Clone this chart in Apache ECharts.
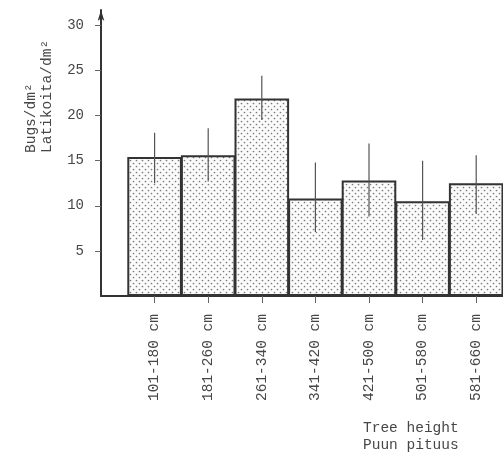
<!DOCTYPE html>
<html>
<head>
<meta charset="utf-8">
<script src="https://cdn.jsdelivr.net/npm/echarts@6/dist/echarts.min.js"></script>
<style>
  html, body { margin: 0; padding: 0; background: #fff; }
  #chart { width: 503px; height: 455px; }
</style>
</head>
<body>
<div id="chart"></div>
<script>
// tree height classes
const heightClasses = ['101-180 cm', '181-260 cm', '261-340 cm', '341-420 cm', '421-500 cm', '501-580 cm', '581-660 cm'];
// mean bugs per dm2
const bugMeans = [15.4, 15.6, 21.9, 10.8, 12.8, 10.5, 12.5];
// error bar ends
const errLow = [12.5, 12.7, 19.5, 7.1, 8.8, 6.2, 9.1];
const errHigh = [18.1, 18.6, 24.4, 14.8, 16.9, 15.0, 15.6];
const yTicks = [5, 10, 15, 20, 25, 30];

const textColor = '#474747';
const lineColor = '#333';
const monoFont = '"Liberation Mono", "DejaVu Sans Mono", monospace';

// dotted fill, like the printed screen tone
function dotPattern() {
  const c = document.createElement('canvas');
  c.width = 6;
  c.height = 6;
  const ctx = c.getContext('2d');
  ctx.fillStyle = '#fbfbfb';
  ctx.fillRect(0, 0, 6, 6);
  ctx.fillStyle = '#7a7a7a';
  [[1.5, 1.5], [4.5, 4.5]].forEach(([x, y]) => {
    ctx.beginPath();
    ctx.arc(x, y, 0.85, 0, Math.PI * 2);
    ctx.fill();
  });
  return c;
}

// blank categories at both ends so the bars sit off the y axis
const xCats = [''].concat(heightClasses, [' ']);

const myChart = echarts.init(document.getElementById('chart'));
const option = {
  backgroundColor: '#fff',
  animation: false,
  title: {
    text: 'Tree height\nPuun pituus',
    left: 358,
    top: 415,
    textStyle: {
      fontFamily: monoFont,
      fontSize: 14.5,
      fontWeight: 'normal',
      color: textColor,
      lineHeight: 17
    }
  },
  grid: {
    left: 101,
    top: 10,
    bottom: 159,
    width: 428.8,
    outerBoundsMode: 'none',
    containLabel: false
  },
  xAxis: {
    type: 'category',
    data: xCats,
    boundaryGap: false,
    axisLine: {
      onZero: false,
      lineStyle: { color: lineColor, width: 2 }
    },
    axisTick: {
      length: 7,
      interval: (i, v) => v.trim() !== '',
      lineStyle: { color: '#666', width: 1 }
    },
    axisLabel: {
      rotate: 90,
      margin: 18,
      interval: 0,
      fontFamily: monoFont,
      fontSize: 14.5,
      color: textColor
    },
    splitLine: { show: false }
  },
  yAxis: {
    type: 'value',
    min: 0,
    max: 31.7,
    name: 'Bugs/dm²\nLatikoita/dm²',
    nameLocation: 'middle',
    nameRotate: 90,
    nameGap: 62,
    nameTextStyle: {
      fontFamily: monoFont,
      fontSize: 14.5,
      color: textColor,
      align: 'left',
      verticalAlign: 'middle',
      lineHeight: 16
    },
    axisLine: {
      show: true,
      symbol: ['none', 'arrow'],
      symbolSize: [5, 11],
      lineStyle: { color: lineColor, width: 2 }
    },
    axisTick: {
      show: true,
      length: 6,
      customValues: yTicks,
      lineStyle: { color: '#666', width: 1 }
    },
    axisLabel: {
      margin: 17,
      customValues: yTicks,
      fontFamily: monoFont,
      fontSize: 14,
      color: textColor
    },
    splitLine: { show: false }
  },
  series: [
    {
      type: 'bar',
      barWidth: 54.6,
      data: heightClasses.map((c, i) => [c, bugMeans[i]]),
      itemStyle: {
        color: { image: dotPattern(), repeat: 'repeat' },
        borderColor: lineColor,
        borderWidth: 2
      }
    },
    {
      type: 'custom',
      data: heightClasses.map((c, i) => [c, errLow[i], errHigh[i]]),
      renderItem: function (params, api) {
        const p1 = api.coord([api.value(0), api.value(1)]);
        const p2 = api.coord([api.value(0), api.value(2)]);
        return {
          type: 'line',
          shape: { x1: p1[0], y1: p1[1], x2: p2[0], y2: p2[1] },
          style: { stroke: '#555', lineWidth: 1.2 }
        };
      },
      z: 3
    }
  ]
};
myChart.setOption(option, true);
</script>
</body>
</html>
